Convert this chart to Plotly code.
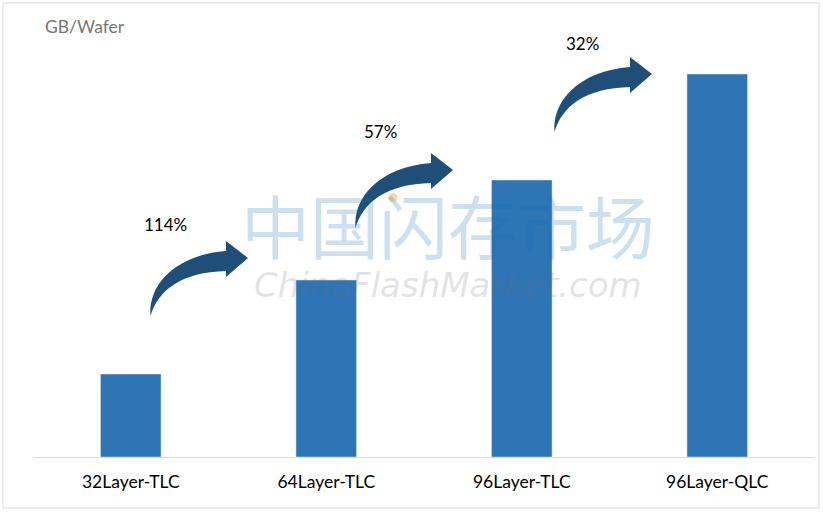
import plotly.graph_objects as go

# ---- data ----
categories = ["32Layer-TLC", "64Layer-TLC", "96Layer-TLC", "96Layer-QLC"]
values = [8.3, 17.7, 27.7, 38.3]
growth_labels = ["114%", "57%", "32%"]
y_unit = "GB/Wafer"

# ---- layout geometry (pixels) ----
W, H = 823, 512
ML, MR, MT, MB = 33, 8, 20, 55
PW, PH = W - ML - MR, H - MT - MB
FONT = "Lato, Open Sans, sans-serif"


def px(x):
    return (x - ML) / PW


def py(y):
    return (H - MB - y) / PH


fig = go.Figure()
fig.add_trace(go.Bar(x=categories, y=values, marker_color="#2e75b6", width=0.31,
                     hoverinfo="x+y"))

shapes = []
annotations = []

# frame around chart
shapes.append(dict(type="rect", xref="paper", yref="paper",
                   x0=px(3), x1=px(819), y0=py(508), y1=py(3),
                   line=dict(color="#d9d9d9", width=1), layer="below"))


# curved arrow (pixel offsets relative to arrow 1)
def arrow_path(dx, dy):
    def P(x, y):
        return f"{px(x + dx):.5f},{py(y + dy):.5f}"
    return ("M " + P(150.5, 316) +
            " C " + P(148, 285) + " " + P(175, 255) + " " + P(226, 251) +
            " L " + P(226, 241) + " L " + P(248, 258) + " L " + P(226, 277) +
            " L " + P(226, 271) +
            " C " + P(182, 272) + " " + P(158, 290) + " " + P(150.5, 316) + " Z")


arrow_offsets = [(0, 0), (205, -88), (404, -184)]
label_pos = [(165, 224), (380, 131), (582, 43)]
for (dx, dy), txt, (lx, ly) in zip(arrow_offsets, growth_labels, label_pos):
    shapes.append(dict(type="path", xref="paper", yref="paper", path=arrow_path(dx, dy),
                       fillcolor="#1f4e79", line=dict(width=0), layer="above"))
    annotations.append(dict(xref="paper", yref="paper", x=px(lx), y=py(ly), text=txt,
                            showarrow=False, xanchor="center", yanchor="middle",
                            font=dict(family=FONT, size=17, color="#000000")))

# unit label
annotations.append(dict(xref="paper", yref="paper", x=px(43), y=py(27), text=y_unit,
                        showarrow=False, xanchor="left", yanchor="middle",
                        font=dict(family=FONT, size=17.5, color="#767676")))

# watermark
annotations.append(dict(xref="paper", yref="paper", x=px(448.5), y=py(224), text="中国闪存市场",
                        showarrow=False, xanchor="center", yanchor="middle",
                        font=dict(family="Noto Sans CJK SC", size=69, color="rgba(20,110,180,0.21)")))
annotations.append(dict(xref="paper", yref="paper", x=px(447.5), y=py(285), text="<i>ChinaFlashMarket.com</i>",
                        showarrow=False, xanchor="center", yanchor="middle",
                        font=dict(family="DejaVu Sans", size=34, color="rgba(110,110,110,0.2)")))
shapes.append(dict(type="circle", xref="paper", yref="paper",
                   x0=px(388.5), x1=px(397.5), y0=py(202), y1=py(193),
                   fillcolor="rgba(253,200,140,0.75)", line=dict(width=0), layer="above"))

fig.update_layout(
    width=W, height=H,
    margin=dict(l=ML, r=MR, t=MT, b=MB),
    paper_bgcolor="white", plot_bgcolor="white",
    showlegend=False,
    shapes=shapes, annotations=annotations,
    xaxis=dict(showline=True, linecolor="#d9d9d9", linewidth=1, ticks="",
               showgrid=False, zeroline=False, ticklabelstandoff=9,
               tickfont=dict(family=FONT, size=17.5, color="#000000")),
    yaxis=dict(visible=False, range=[0, PH / 10], showgrid=False, zeroline=False),
)

fig.write_html("out.html", config={"displayModeBar": False},
               post_script="document.body.style.margin='0';")
